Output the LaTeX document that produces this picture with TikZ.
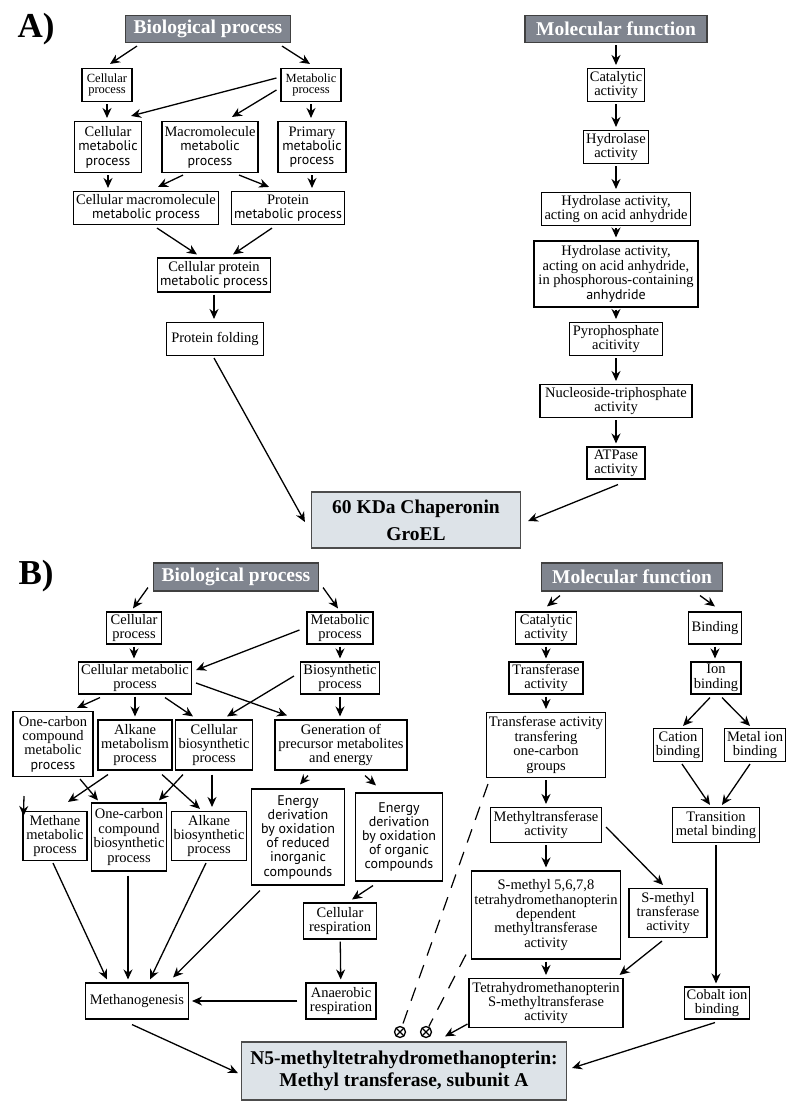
\documentclass[tikz,border=0pt]{standalone}
\usepackage{fontspec}
\setmainfont{Liberation Serif}
\setsansfont{PT Sans}
\usetikzlibrary{arrows.meta,calc}
\definecolor{hdrgray}{RGB}{128,133,143}
\definecolor{tgtfill}{RGB}{221,227,232}
\newcommand{\sfln}[1]{{\sffamily\fontsize{14}{14.4}\selectfont #1}}

\begin{document}
\begin{tikzpicture}[x=1pt,y=-1pt,
  box/.style={draw, line width=1.1pt, align=center, inner xsep=2pt, inner ysep=1pt, font=\fontsize{14.5}{14.4}\selectfont},
  smallbox/.style={box, font=\fontsize{12.5}{11.8}\selectfont},
  sansbox/.style={box, font=\sffamily\fontsize{14}{14.2}\selectfont},
  header/.style={draw=black!75, line width=1.1pt, fill=hdrgray, text=white, inner sep=2pt, font=\bfseries\fontsize{19.5}{20}\selectfont},
  target/.style={draw=black!70, line width=1.2pt, fill=tgtfill, align=center, font=\bfseries\fontsize{19.5}{27}\selectfont},
  panel/.style={font=\bfseries\fontsize{35}{35}\selectfont},
  arr/.style={line width=1.3pt, -{Stealth[length=10pt,width=9pt]}},
  varr/.style={arr, shorten <=2pt, shorten >=3pt},
  inhib/.style={line width=1.2pt, dash pattern=on 14pt off 10pt},
  otimes/.style={circle, draw, line width=1.3pt, minimum size=11pt, inner sep=0pt,
    path picture={\draw[line width=1.3pt] (path picture bounding box.north west) -- (path picture bounding box.south east)
      (path picture bounding box.north east) -- (path picture bounding box.south west);}}
]
\useasboundingbox (0,0) rectangle (800,1111);

% ---------------- A) ----------------
\node[panel] (labA) at (36,29) {A)};
\node[header, minimum width=165, minimum height=27] (bpA) at (208,29) {Biological process};
\node[header, minimum width=182, minimum height=27] (mfA) at (616,29) {Molecular function};

% biological process tree
\node[smallbox, minimum width=50, minimum height=33] (cpA) at (107,85) {Cellular\\process};
\node[smallbox, minimum width=60, minimum height=33] (mpA) at (311,85) {Metabolic\\process};
\node[box, minimum width=67, minimum height=51] (cmpA) at (108,147) {Cellular\\\sfln{metabolic}\\\sfln{process}};
\node[box, minimum width=96, minimum height=51] (mmpA) at (210,147) {Macromolecule\\\sfln{metabolic}\\\sfln{process}};
\node[box, minimum width=68, minimum height=51] (pmpA) at (312,147) {Primary\\\sfln{metabolic}\\\sfln{process}};
\node[box, minimum width=145, minimum height=33] (cmmpA) at (146,208) {Cellular macromolecule\\\sfln{metabolic process}};
\node[box, minimum width=113, minimum height=33] (prmpA) at (288,208) {Protein\\\sfln{metabolic process}};
\node[box, minimum width=113, minimum height=34] (cprpA) at (214,275) {Cellular protein\\\sfln{metabolic process}};
\node[box, minimum width=97, minimum height=33] (pfA) at (215,339) {Protein folding};

% molecular function chain
\node[box, minimum width=57, minimum height=33] (caA) at (616,85) {Catalytic\\activity};
\node[box, minimum width=65, minimum height=33] (haA) at (616,147) {Hydrolase\\activity};
\node[box, minimum width=149, minimum height=33] (haaA) at (616,209) {Hydrolase activity,\\acting on acid anhydride};
\node[box, minimum width=164, minimum height=66] (hapA) at (616,274) {Hydrolase activity,\\acting on acid anhydride,\\in phosphorous-containing\\\sfln{anhydride}};
\node[box, minimum width=93, minimum height=33] (ppA) at (616,339) {Pyrophosphate\\acitivity};
\node[box, minimum width=152, minimum height=33] (ntA) at (616,401) {Nucleoside-triphosphate\\activity};
\node[box, minimum width=58, minimum height=32] (atA) at (616,463) {ATPase\\activity};

\node[target, minimum width=209, minimum height=56] (gro) at (416,520) {60 KDa Chaperonin\\GroEL};

% arrows, left tree
\draw[arr] ($(bpA.south)+(-71,3)$) -- ($(cpA.north)+(3,-4)$);
\draw[arr] ($(bpA.south)+(74,3)$) -- ($(mpA.north)+(-1,-4)$);
\draw[varr] (cpA.south) -- (cpA.south |- cmpA.north);
\draw[arr] ($(mpA.west)+(-4,-7)$) -- ($(cmpA.north east)+(-11,-5)$);
\draw[arr] ($(mpA.west)+(-4,5)$) -- ($(mmpA.north)+(22,-4)$);
\draw[varr] (mpA.south) -- (mpA.south |- pmpA.north);
\draw[varr] (cmpA.south) -- (cmpA.south |- cmmpA.north);
\draw[arr] ($(mmpA.south)+(-27,2)$) -- ($(cmmpA.north)+(12,-4)$);
\draw[arr] ($(mmpA.south)+(29,2)$) -- ($(prmpA.north)+(-19,-4)$);
\draw[varr] (pmpA.south) -- (pmpA.south |- prmpA.north);
\draw[arr] ($(cmmpA.south)+(11,3)$) -- ($(cprpA.north)+(-17,-3)$);
\draw[arr] ($(prmpA.south)+(-16,3)$) -- ($(cprpA.north)+(19,-3)$);
\draw[varr] (cprpA.south) -- (cprpA.south |- pfA.north);
\draw[arr] ($(pfA.south)+(-1,2)$) -- ($(gro.west)+(-6,2)$);

% arrows, right chain
\draw[varr] (mfA) -- (caA);
\draw[varr] (caA) -- (haA);
\draw[varr] (haA) -- (haaA);
\draw[varr] (haaA) -- (hapA);
\draw[varr] (hapA) -- (ppA);
\draw[varr] (ppA) -- (ntA);
\draw[varr] (ntA) -- (atA);
\draw[arr] ($(atA.south)+(2,5)$) -- ($(gro.east)+(7,1)$);

% ---------------- B) ----------------
\node[panel] (labB) at (36,576) {B)};
\node[header, minimum width=165, minimum height=28] (bpB) at (236,577) {Biological process};
\node[header, minimum width=181, minimum height=28] (mfB) at (632,577) {Molecular function};

% biological process tree
\node[box, minimum width=55, minimum height=32] (cpB) at (134,628) {Cellular\\process};
\node[box, minimum width=66, minimum height=32] (mpB) at (340,628) {Metabolic\\process};
\node[box, minimum width=113, minimum height=32] (cmpB) at (135,678) {Cellular metabolic\\process};
\node[box, minimum width=79, minimum height=32] (bsB) at (340,678) {Biosynthetic\\process};
\node[box, minimum width=80, minimum height=65] (ocmB) at (53,744) {One-carbon\\compound\\metabolic\\\sfln{process}};
\node[box, minimum width=74, minimum height=50] (amB) at (135,745) {Alkane\\metabolism\\process};
\node[box, minimum width=77, minimum height=50] (cbB) at (214,745) {Cellular\\biosynthetic\\process};
\node[box, minimum width=132, minimum height=50] (genB) at (341,745) {Generation of\\precursor metabolites\\and energy};
\node[box, minimum width=64, minimum height=49] (mmB) at (55,836) {Methane\\metabolic\\process};
\node[box, minimum width=74, minimum height=68] (ocbB) at (129,837) {One-carbon\\compound\\biosynthetic\\process};
\node[box, minimum width=75, minimum height=49] (abB) at (209,836) {Alkane\\biosynthetic\\process};
\node[sansbox, minimum width=93, minimum height=96] (edi) at (298,837) {Energy\\derivation\\by oxidation\\of reduced\\inorganic\\compounds};
\node[sansbox, minimum width=87, minimum height=88] (edo) at (399,837) {Energy\\derivation\\by oxidation\\of organic\\compounds};
\node[box, minimum width=73, minimum height=36] (crB) at (340,921) {Cellular\\respiration};
\node[box, minimum width=70, minimum height=36] (arB) at (341,1001) {Anaerobic\\respiration};
\node[box, minimum width=103, minimum height=36] (mgB) at (137,1001) {Methanogenesis};
\coordinate (mmIn) at (24,796);

% molecular function tree
\node[box, minimum width=61, minimum height=32] (caB) at (546,628) {Catalytic\\activity};
\node[box, minimum width=53, minimum height=32] (biB) at (715,628) {Binding};
\node[box, minimum width=74, minimum height=32] (trB) at (546,678) {Transferase\\activity};
\node[box, minimum width=50, minimum height=32] (ibB) at (716,678) {Ion\\binding};
\node[box, minimum width=119, minimum height=65] (tocB) at (546,745) {Transferase activity\\transfering\\one-carbon\\groups};
\node[box, minimum width=48, minimum height=33] (catB) at (678,745) {Cation\\binding};
\node[box, minimum width=61, minimum height=33] (mibB) at (755,745) {Metal ion\\binding};
\node[box, minimum width=111, minimum height=35] (mtB) at (546,825) {Methyltransferase\\activity};
\node[box, minimum width=87, minimum height=35] (tmbB) at (716,825) {Transition\\metal binding};
\node[box, minimum width=149, minimum height=88] (smB) at (546,915) {S-methyl 5,6,7,8\\tetrahydromethanopterin\\dependent\\methyltransferase\\activity};
\node[box, minimum width=78, minimum height=49] (smtB) at (668,913) {S-methyl\\transferase\\activity};
\node[box, minimum width=154, minimum height=49] (thmB) at (546,1003) {Tetrahydromethanopterin\\S-methyltransferase\\activity};
\node[box, minimum width=64, minimum height=32] (cobB) at (717,1003) {Cobalt ion\\binding};

\node[otimes] (ox1) at (400,1032) {};
\node[otimes] (ox2) at (426,1032) {};
\node[target, minimum width=325, minimum height=58, font=\bfseries\fontsize{19.5}{22}\selectfont] (n5) at (404,1071) {N5-methyltetrahydromethanopterin:\\Methyl transferase, subunit A};

% arrows, biological process
\draw[arr] ($(bpB.south west)+(-5,-4)$) -- ($(cpB.north)+(-1,-3)$);
\draw[arr] ($(bpB.south east)+(4,-4)$) -- ($(mpB.north)+(-2,-3)$);
\draw[varr] (cpB.south) -- (cpB.south |- cmpB.north);
\draw[arr] ($(mpB.west)+(-7,2)$) -- ($(cmpB.east)+(4,-8)$);
\draw[varr] (mpB) -- (bsB);
\draw[arr] ($(cmpB.south)+(-35,3)$) -- ($(ocmB.north)+(24,-3)$);
\draw[varr] (cmpB) -- (amB);
\draw[arr] ($(cmpB.south)+(30,3)$) -- ($(cbB.north)+(-21,-3)$);
\draw[arr] ($(cmpB.east)+(4,5)$) -- ($(genB.north)+(-54,-4)$);
\draw[arr] ($(bsB.west)+(-6,-2)$) -- ($(cbB.north)+(13,-3)$);
\draw[varr] (bsB.south) -- (bsB.south |- genB.north);
\draw[arr] ($(genB.south)+(-33,5)$) -- ($(edi.north)+(2,-4)$);
\draw[arr] ($(genB.south)+(24,5)$) -- ($(edo.north)+(-23,-7)$);
\draw[arr] ($(amB.south)+(-27,4)$) -- ($(mmB.north)+(13,-9)$);
\draw[arr] ($(ocmB.south)+(27,2)$) -- ($(ocbB.north)+(-31,-2)$);
\draw[arr] ($(cbB.south)+(-31,4)$) -- ($(ocbB.north)+(30,-2)$);
\draw[arr] ($(amB.south)+(27,4)$) -- ($(abB.north)+(-9,-2)$);
\draw[arr] ($(cbB.south)+(-2,4)$) -- ($(abB.north)+(3,-4)$);
\draw[arr] (mmIn) -- ($(mmB.north west)+(1,5)$);
\draw[arr] ($(mmB.south)+(-2,2)$) -- ($(mgB.north)+(-30,-3)$);
\draw[arr] ($(ocbB.south)+(-1,4)$) -- ($(mgB.north)+(-9,-3)$);
\draw[arr] ($(abB.south)+(-3,2)$) -- ($(mgB.north)+(13,-3)$);
\draw[arr] ($(edi.south)+(-38,5)$) -- ($(mgB.north east)+(-16,-5)$);
\draw[arr] ($(edo.south)+(-26,4)$) -- ($(crB.north)+(12,-3)$);
\draw[varr] (crB) -- (arB);
\draw[arr] ($(arB.west)+(-8,0)$) -- ($(mgB.east)+(3,0)$);
\draw[arr] ($(mgB.south)+(-5,5)$) -- ($(n5.west)+(-3,2)$);

% arrows, molecular function
\draw[arr] ($(mfB.south)+(-72,4)$) -- ($(caB.north)+(1,-5)$);
\draw[arr] ($(mfB.south)+(68,4)$) -- ($(biB.north)+(0,-5)$);
\draw[varr] (caB) -- (trB);
\draw[varr] (trB) -- (tocB);
\draw[varr] (biB.south) -- (biB.south |- ibB.north);
\draw[arr] ($(ibB.south)+(-6,3)$) -- ($(catB.north)+(5,-2)$);
\draw[arr] ($(ibB.south)+(6,3)$) -- ($(mibB.north)+(-5,-2)$);
\draw[arr] ($(catB.south)+(4,2)$) -- ($(tmbB.north)+(-6,-2)$);
\draw[arr] ($(mibB.south)+(-5,2)$) -- ($(tmbB.north)+(6,-2)$);
\draw[varr] (tocB) -- (mtB);
\draw[varr] (mtB) -- (smB);
\draw[arr] ($(mtB.east)+(4,2)$) -- ($(smtB.north)+(-5,-3)$);
\draw[varr] (tmbB.south) -- (tmbB.south |- cobB.north);
\draw[varr] (smB) -- (thmB);
\draw[arr] ($(smtB.south)+(-6,3)$) -- ($(thmB.north east)+(-4,-3)$);
\draw[arr] ($(thmB.south west)+(-1,-4)$) -- ($(n5.north)+(41,-5)$);
\draw[arr] ($(cobB.south)+(-2,3)$) -- ($(n5.east)+(5,-3)$);

% dashed links to the crossed circles
\draw[inhib] ($(tocB.south west)+(2,6)$) -- (ox1);
\draw[inhib] ($(smB.south west)+(-5,-5)$) -- (ox2);
\end{tikzpicture}
\end{document}
